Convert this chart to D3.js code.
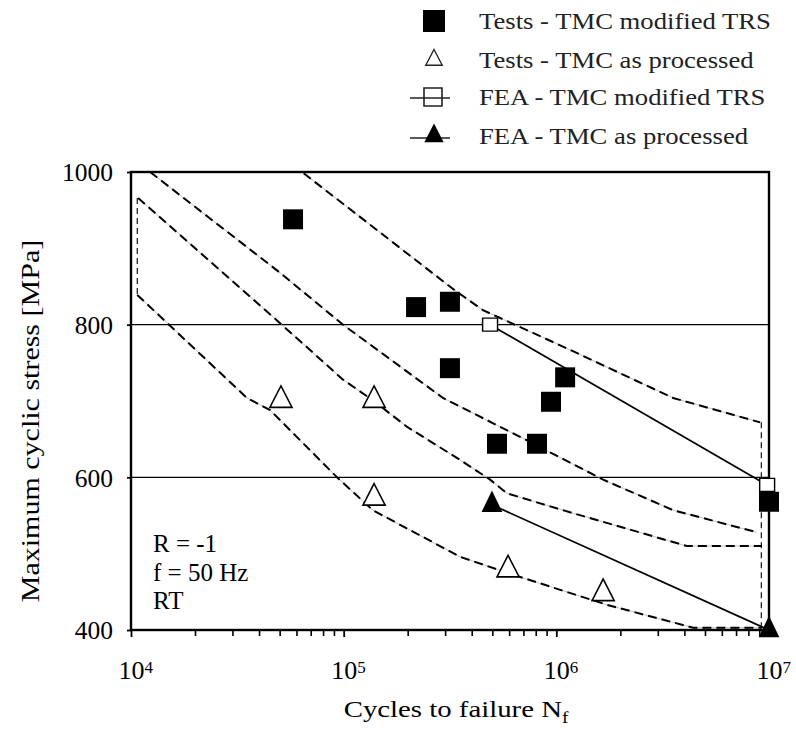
<!DOCTYPE html>
<html>
<head>
<meta charset="utf-8">
<script src="https://cdn.jsdelivr.net/npm/d3@7/dist/d3.min.js"></script>
<style>
  html, body { margin: 0; padding: 0; background: #fff; }
  svg text { font-family: "Liberation Serif", "DejaVu Serif", serif; }
</style>
</head>
<body>
<svg id="chart" width="796" height="737"></svg>
<script>
// ---------------- DATA ----------------
// Tests - TMC modified TRS  [cycles, MPa]
const testsModN = [5.78e4, 2.19e5, 3.16e5, 3.16e5, 1.10e6, 9.44e5, 5.26e5, 8.11e5, 1.0e7];
const testsModS = [938, 823, 830, 743, 731, 699, 644, 644, 568];
// Tests - TMC as processed
const testsAsN = [5.07e4, 1.39e5, 1.39e5, 5.93e5, 1.66e6];
const testsAsS = [701, 701, 573, 479, 448];
// FEA - TMC modified TRS
const feaModN = [4.88e5, 9.8e6];
const feaModS = [800, 590];
// FEA - TMC as processed
const feaAsN = [4.98e5, 1.0e7];
const feaAsS = [564, 400];
// Scatter band boundaries (dashed)
const band1N = [1.23e4, 6.37e4, 3.33e5, 4.52e5, 1.12e6, 3.54e6, 9.08e6];
const band1S = [1000, 1000, 845, 819, 769, 704, 672];
const band2N = [1.23e4, 5.02e4, 9.93e4, 2.93e5, 6.75e5, 1.66e6, 3.54e6, 8.77e6];
const band2S = [1000, 868, 800, 704, 653, 597, 557, 528];
const band3N = [1.08e4, 5.02e4, 9.93e4, 1.37e5, 1.99e5, 3.52e5, 4.88e5, 5.86e5, 1.20e6, 4.11e6, 9.27e6];
const band3S = [966, 802, 728, 701, 666, 623, 597, 579, 553, 510, 510];
const band4N = [1.07e4, 3.51e4, 4.51e4, 9.31e4, 1.37e5, 3.52e5, 5.86e5, 1.73e6, 4.40e6, 9.27e6];
const band4S = [839, 704, 688, 600, 557, 496, 475, 433, 403, 403];
const bandLeftN = [1.07e4, 1.07e4];
const bandLeftS = [966, 839];
const bandRightN = [9.2e6, 9.2e6];
const bandRightS = [672, 402];
// Axis ticks
const xMajor = [1e4, 1e5, 1e6, 1e7];
const xMajorExp = ["4", "5", "6", "7"];
const yTicks = [400, 600, 800, 1000];
const yGrid = [600, 800];
const legendLabels = ["Tests - TMC modified TRS", "Tests - TMC as processed", "FEA - TMC modified TRS", "FEA - TMC as processed"];
const notes = ["R = -1", "f = 50 Hz", "RT"];

// ---------------- CHART ----------------
const FONT = '"Liberation Serif", "DejaVu Serif", serif';
const svg = d3.select("#chart");
const L = 131, R = 769, T = 172, B = 630;
const x = d3.scaleLog().domain([1e4, 1e7]).range([L, R]);
const y = d3.scaleLinear().domain([400, 1000]).range([B, T]);
const zip = (a, b) => a.map((v, i) => [v, b[i]]);

// gridlines
svg.append("g").selectAll("line").data(yGrid).join("line")
  .attr("x1", L).attr("x2", R).attr("y1", d => y(d)).attr("y2", d => y(d))
  .attr("stroke", "#000").attr("stroke-width", 1.4);

// dashed band lines
const line = d3.line().x(d => x(d[0])).y(d => y(d[1]));
const bands = [zip(band1N, band1S), zip(band2N, band2S), zip(band3N, band3S), zip(band4N, band4S),
               zip(bandLeftN, bandLeftS), zip(bandRightN, bandRightS)];
const bg = svg.append("g");
bands.forEach((b, i) => {
  if (i < 4) bg.append("path").attr("d", line(b)).attr("fill", "none").attr("stroke", "#aaa").attr("stroke-width", 0.7);
  bg.append("path").attr("d", line(b)).attr("fill", "none").attr("stroke", "#000")
    .attr("stroke-width", i < 4 ? 2 : 1.1).attr("stroke-dasharray", i < 4 ? "9,5" : "6,4");
});

// FEA lines
svg.append("path").attr("d", line(zip(feaModN, feaModS))).attr("fill", "none").attr("stroke", "#000").attr("stroke-width", 1.7);
svg.append("path").attr("d", line(zip(feaAsN, feaAsS))).attr("fill", "none").attr("stroke", "#000").attr("stroke-width", 1.7);

// frame
svg.append("rect").attr("x", L).attr("y", T).attr("width", R - L).attr("height", B - T)
  .attr("fill", "none").attr("stroke", "#000").attr("stroke-width", 2.4);

// x axis ticks
const xMinor = [];
for (let e = 4; e < 7; e++) for (let m = 2; m <= 9; m++) xMinor.push(m * Math.pow(10, e));
svg.append("g").attr("transform", `translate(0,${B})`)
  .call(d3.axisBottom(x).tickValues(xMinor).tickSize(6).tickFormat(""))
  .call(g => g.select(".domain").remove())
  .call(g => g.selectAll("line").attr("stroke-width", 1.6));
const xg = svg.append("g").attr("transform", `translate(0,${B})`)
  .call(d3.axisBottom(x).tickValues(xMajor).tickSize(7).tickFormat(""))
  .call(g => g.select(".domain").remove())
  .call(g => g.selectAll("line").attr("stroke-width", 1.8));
xg.selectAll(".tick").append("text")
  .attr("x", 0).attr("y", 49).attr("fill", "#000").attr("text-anchor", "middle")
  .style("font-size", "26px").style("font-family", FONT).text("10");
xg.selectAll(".tick").append("text")
  .attr("x", 13).attr("y", 43).attr("fill", "#000").attr("text-anchor", "start")
  .style("font-size", "17px").style("font-family", FONT).text((d, i) => xMajorExp[i]);

// y axis ticks
const yg = svg.append("g").attr("transform", `translate(${L},0)`)
  .call(d3.axisLeft(y).tickValues(yTicks).tickSize(4).tickPadding(14).tickFormat(d3.format("d")))
  .call(g => g.select(".domain").remove())
  .call(g => g.selectAll("line").attr("stroke-width", 1.8));
yg.selectAll("text").attr("fill", "#000").style("font-size", "25.5px").style("font-family", FONT).attr("dy", "0.35em");

// axis titles
svg.append("text").attr("transform", `translate(39,421) rotate(-90) scale(1.2,1)`)
  .attr("text-anchor", "middle").style("font-size", "25px").style("font-family", FONT).text("Maximum cyclic stress [MPa]");
const xt = svg.append("text").attr("transform", `translate(456,717) scale(1.2,1)`).attr("text-anchor", "middle")
  .style("font-size", "24px").style("font-family", FONT);
xt.append("tspan").text("Cycles to failure N");
xt.append("tspan").attr("dy", 6).style("font-size", "16px").text("f");

// notes
svg.append("g").selectAll("text").data(notes).join("text")
  .attr("x", 153).attr("y", (d, i) => [552, 581, 609][i]).style("font-size", "25px").style("font-family", FONT).text(d => d);

// markers
const sq = d3.symbol().type(d3.symbolSquare);
const tri = d3.symbol().type(d3.symbolTriangle);
svg.append("g").selectAll("path").data(zip(feaModN, feaModS)).join("path")
  .attr("transform", d => `translate(${x(d[0])},${y(d[1])}) scale(1.03,0.9)`)
  .attr("d", sq.size(210)()).attr("fill", "#fff").attr("stroke", "#000").attr("stroke-width", 1.4);
svg.append("g").selectAll("path").data(zip(testsModN, testsModS)).join("path")
  .attr("transform", d => `translate(${x(d[0])},${y(d[1])})`)
  .attr("d", sq.size(400)()).attr("fill", "#000");
svg.append("g").selectAll("path").data(zip(testsAsN, testsAsS)).join("path")
  .attr("transform", d => `translate(${x(d[0])},${y(d[1])}) scale(0.96,1.08)`)
  .attr("d", tri.size(230)()).attr("fill", "#fff").attr("stroke", "#000").attr("stroke-width", 1.6);
svg.append("g").selectAll("path").data(zip(feaAsN, feaAsS)).join("path")
  .attr("transform", d => `translate(${x(d[0])},${y(d[1])}) scale(0.9,1.08)`)
  .attr("d", tri.size(230)()).attr("fill", "#000");

// legend
const lg = svg.append("g");
const lx = 434, ly = [21, 60, 97, 136];
lg.append("path").attr("transform", `translate(${lx},${ly[0]})`).attr("d", sq.size(484)()).attr("fill", "#000");
lg.append("path").attr("transform", `translate(${lx},${ly[1]}) scale(0.95,1.05)`).attr("d", tri.size(130)()).attr("fill", "#fff").attr("stroke", "#222").attr("stroke-width", 1.4);
lg.append("line").attr("x1", lx - 24).attr("x2", lx + 16).attr("y1", ly[2] + 1).attr("y2", ly[2] + 1).attr("stroke", "#222").attr("stroke-width", 1.3);
lg.append("path").attr("transform", `translate(${lx - 1},${ly[2]})`).attr("d", sq.size(324)()).attr("fill", "none").attr("stroke", "#222").attr("stroke-width", 1.6);
lg.append("line").attr("x1", lx - 24).attr("x2", lx + 16).attr("y1", ly[3] + 2).attr("y2", ly[3] + 2).attr("stroke", "#222").attr("stroke-width", 1.3);
lg.append("path").attr("transform", `translate(${lx},${ly[3]}) scale(0.9,1)`).attr("d", tri.size(200)()).attr("fill", "#000");
lg.selectAll("text").data(legendLabels).join("text")
  .attr("transform", (d, i) => `translate(479,${ly[i] + 8}) scale(1.16,1)`)
  .style("font-size", "23px").style("font-family", FONT)
  .attr("fill", "#222").text(d => d);
</script>
</body>
</html>
